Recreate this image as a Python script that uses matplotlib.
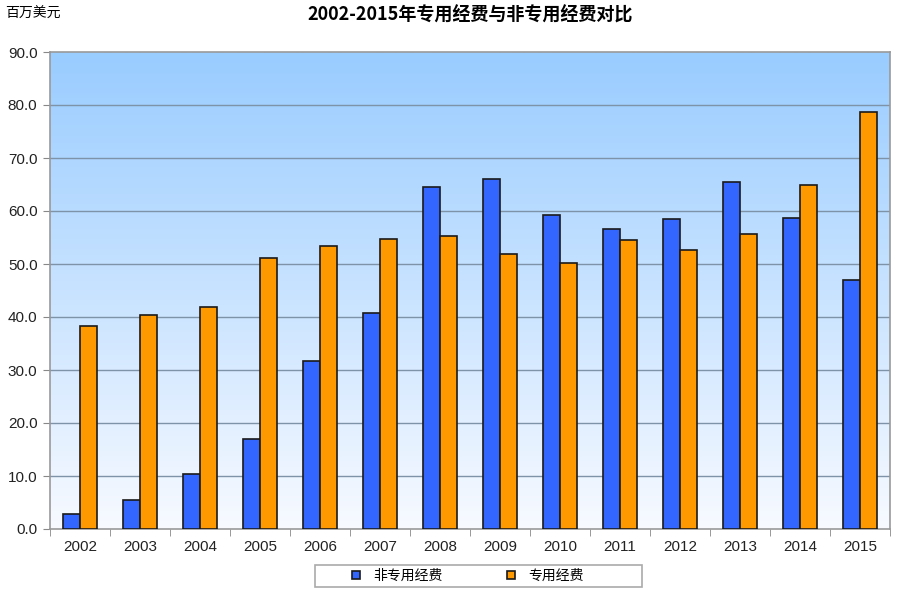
import numpy as np
import matplotlib
matplotlib.use('Agg')
import matplotlib.pyplot as plt
from matplotlib.patches import Rectangle

plt.rcParams['font.family'] = ['Liberation Sans', 'Noto Sans CJK SC']

# data
anos = ['2002', '2003', '2004', '2005', '2006', '2007', '2008',
        '2009', '2010', '2011', '2012', '2013', '2014', '2015']
nao_especial = [2.8, 5.5, 10.4, 17.0, 31.7, 40.8, 64.6,
                66.0, 59.2, 56.6, 58.5, 65.5, 58.7, 47.0]
especial = [38.3, 40.4, 41.9, 51.1, 53.4, 54.7, 55.3,
            51.9, 50.1, 54.5, 52.6, 55.7, 64.9, 78.7]
yticks = [0, 10, 20, 30, 40, 50, 60, 70, 80, 90]

fig = plt.figure(figsize=(9, 6), dpi=100)
ax = fig.add_axes([50/900, 71/600, 840/900, 477/600])

x = np.arange(len(anos))
w = 0.283

# fundo em degrade azul -> branco
grad = np.linspace(0, 1, 256).reshape(-1, 1)
topo = np.array([0.60, 0.80, 1.00])
base = np.array([0.97, 0.98, 1.00])
img = base + (topo - base) * grad[..., None]
ax.imshow(img, aspect='auto', extent=[-0.5, 13.5, 0, 90], origin='lower', zorder=0)

for yv in yticks[1:-1]:
    ax.axhline(yv, color='#7f93a8', lw=1, zorder=1)

ax.bar(x - w/2, nao_especial, w, color='#3366ff', edgecolor='#1a1a1a', lw=1.2,
       label='非专用经费', zorder=3)
ax.bar(x + w/2, especial, w, color='#ff9900', edgecolor='#1a1a1a', lw=1.2,
       label='专用经费', zorder=3)

ax.set_xlim(-0.5, 13.5)
ax.set_ylim(0, 90)
ax.set_yticks(yticks)
ax.set_yticklabels(['%.1f' % v for v in yticks], fontsize=11, color='#222222')
ax.set_xticks(x)
ax.set_xticklabels(anos, fontsize=11, color='#222222')
ax.set_xticks(np.arange(-0.5, 14, 1), minor=True)
ax.tick_params(axis='x', which='major', length=0, pad=8)
ax.tick_params(axis='x', which='minor', length=5, color='#888888')
ax.tick_params(axis='y', length=5, color='#888888', pad=4)
for s in ax.spines.values():
    s.set_color('#999999')
    s.set_linewidth(1.2)

fig.text(470/900, 1 - 15/600, '2002-2015年专用经费与非专用经费对比',
         ha='center', va='center', fontsize=13, fontweight='bold',
         family=['Noto Sans CJK SC'])
fig.text(5/900, 1 - 14/600, '百万美元', ha='left', va='center', fontsize=10,
         style='italic', family=['Noto Sans CJK SC'])

# caixa da legenda desenhada a mao
fig.patches.append(Rectangle((315/900, 1 - 587/600), 327/900, 22/600,
                             transform=fig.transFigure, facecolor='white',
                             edgecolor='#aaaaaa', lw=1.2))
leg = fig.legend(loc='center', bbox_to_anchor=(468/900, 1 - 576/600), ncol=2,
                 fontsize=10, frameon=False,
                 handlelength=0.55, handleheight=0.55, handletextpad=1.0,
                 columnspacing=4.6, borderpad=0.2, borderaxespad=0)

plt.savefig('out.png', dpi=100)
